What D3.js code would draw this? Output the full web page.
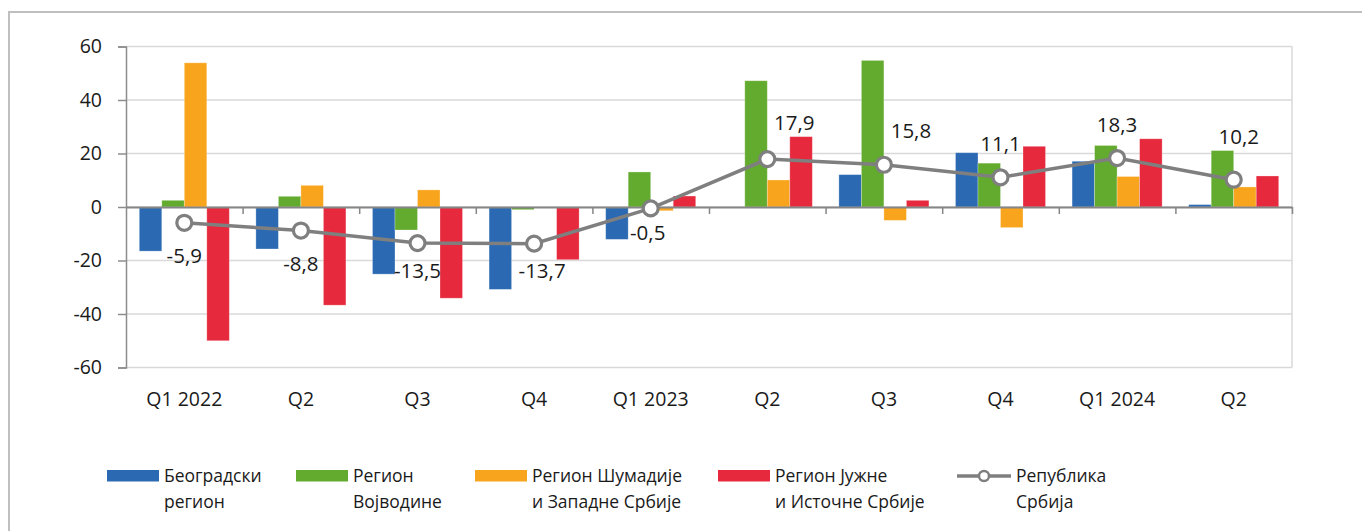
<!DOCTYPE html>
<html>
<head>
<meta charset="utf-8">
<script src="https://cdn.jsdelivr.net/npm/d3@7"></script>
<style>
  body { margin: 0; background: #fff; }
  text { font-family: "Open Sans", sans-serif; fill: #1a1a1a; }
</style>
</head>
<body>
<div class="chart"></div>
<script>
const quarters = ["Q1 2022", "Q2", "Q3", "Q4", "Q1 2023", "Q2", "Q3", "Q4", "Q1 2024", "Q2"];

const belgrade = [-16.5, -15.7, -25.1, -30.8, -12.1, 0, 12.1, 20.3, 17.1, 0.9];
const vojvodina = [2.5, 4.0, -8.6, -1.0, 13.1, 47.2, 54.8, 16.4, 23.0, 21.1];
const sumadija = [53.9, 8.1, 6.4, 0, -1.4, 10.1, -5.0, -7.7, 11.4, 7.5];
const south = [-50.0, -36.7, -34.1, -19.7, 4.1, 26.3, 2.5, 22.7, 25.5, 11.6];
const serbia = [-5.9, -8.8, -13.5, -13.7, -0.5, 17.9, 15.8, 11.1, 18.3, 10.2];

const yTicks = [-60, -40, -20, 0, 20, 40, 60];

const seriesNames = [
  ["Београдски", "регион"],
  ["Регион", "Војводине"],
  ["Регион Шумадије", "и Западне Србије"],
  ["Регион Јужне", "и Источне Србије"],
];
const lineName = ["Република", "Србија"];

const colors = ["#2b6ab2", "#63ab2f", "#f8a51d", "#e6293c"];
const barSeries = [belgrade, vojvodina, sumadija, south];

// label nudges [dx, dy] relative to each point
const labelNudge = [
  [0, 33], [0, 33], [0, 28], [8, 27], [-3, 24],
  [27, -36], [27, -34], [0, -33], [0, -33], [5, -43],
];

const W = 1362, H = 531;
const plot = { left: 126, right: 1292, top: 46.5, bottom: 367.5 };

const svg = d3.select(".chart").append("svg")
  .attr("width", W).attr("height", H);

// outer chart border
svg.append("rect")
  .attr("x", 9).attr("y", 12)
  .attr("width", W + 20).attr("height", H + 20)
  .attr("fill", "none").attr("stroke", "#bfbfbf").attr("stroke-width", 2);

const idx = d3.range(quarters.length);

const x0 = d3.scaleBand().domain(idx).range([plot.left, plot.right]).padding(0);
const x1 = d3.scaleBand().domain(d3.range(4)).range([0, x0.bandwidth()]).paddingOuter(0.59).paddingInner(0);
const y = d3.scaleLinear().domain([-60, 60]).range([plot.bottom, plot.top]);

// gridlines
svg.append("g")
  .selectAll("line")
  .data(yTicks)
  .join("line")
  .attr("x1", plot.left).attr("x2", plot.right)
  .attr("y1", (d) => y(d)).attr("y2", (d) => y(d))
  .attr("stroke", "#d9d9d9").attr("stroke-width", 1.5);

// plot area right border
svg.append("line")
  .attr("x1", plot.right).attr("x2", plot.right)
  .attr("y1", plot.top).attr("y2", plot.bottom)
  .attr("stroke", "#d9d9d9").attr("stroke-width", 1.5);

// bars
barSeries.forEach(function (vals, s) {
  svg.append("g")
    .selectAll("rect")
    .data(vals)
    .join("rect")
    .attr("x", (d, i) => x0(i) + x1(s))
    .attr("width", x1.bandwidth())
    .attr("y", (d) => y(Math.max(0, d)))
    .attr("height", (d) => Math.abs(y(d) - y(0)))
    .attr("fill", colors[s])
    .attr("stroke", "#ffffff").attr("stroke-opacity", 0.35).attr("stroke-width", 0.8);
});

// y axis
const yAxis = svg.append("g")
  .attr("transform", "translate(" + plot.left + ",0)")
  .call(d3.axisLeft(y).tickValues(yTicks).tickFormat((d) => String(d))
    .tickSize(8).tickPadding(16).tickSizeOuter(8));
yAxis.select(".domain").attr("stroke", "#8c8c8c").attr("stroke-width", 1.5);
yAxis.selectAll(".tick line").attr("stroke", "#8c8c8c").attr("stroke-width", 1.5);
yAxis.selectAll(".tick text")
  .style("font-family", '"Open Sans", sans-serif')
  .style("font-size", "19.5px")
  .attr("fill", "#1a1a1a");

// zero axis with category boundary ticks
const xAxis = svg.append("g")
  .attr("transform", "translate(0," + y(0) + ")")
  .call(d3.axisBottom(d3.scaleLinear().domain([0, quarters.length]).range([plot.left, plot.right]))
    .tickValues(d3.range(1, quarters.length + 1)).tickSize(7).tickFormat("").tickSizeOuter(0));
xAxis.select(".domain").attr("stroke", "#868686").attr("stroke-width", 2);
xAxis.selectAll(".tick line").attr("stroke", "#868686").attr("stroke-width", 1.5);

// category labels
svg.append("g")
  .selectAll("text")
  .data(quarters)
  .join("text")
  .attr("x", (d, i) => x0(i) + x0.bandwidth() / 2)
  .attr("y", 406)
  .attr("text-anchor", "middle")
  .style("font-size", "19.5px")
  .text((d) => d);

// Republic line
const cx = (i) => x0(i) + x0.bandwidth() / 2;
const line = d3.line().x((d, i) => cx(i)).y((d) => y(d));

svg.append("path")
  .datum(serbia)
  .attr("d", line)
  .attr("fill", "none")
  .attr("stroke", "#7f7f7f")
  .attr("stroke-width", 3.5);

svg.append("g")
  .selectAll("circle")
  .data(serbia)
  .join("circle")
  .attr("cx", (d, i) => cx(i))
  .attr("cy", (d) => y(d))
  .attr("r", 7.5)
  .attr("fill", "#fff")
  .attr("stroke", "#7f7f7f")
  .attr("stroke-width", 3.2);

svg.append("g")
  .selectAll("text")
  .data(serbia)
  .join("text")
  .attr("x", (d, i) => cx(i) + labelNudge[i][0])
  .attr("y", (d, i) => y(d) + labelNudge[i][1])
  .attr("dy", "0.35em")
  .attr("text-anchor", "middle")
  .style("font-size", "20.5px")
  .attr("fill", "#000")
  .text((d) => d.toFixed(1).replace(".", ","));

// legend
const legendX = [107, 296, 475, 718, 957];
const legend = svg.append("g");

seriesNames.forEach(function (name, s) {
  legend.append("rect")
    .attr("x", legendX[s]).attr("y", 470)
    .attr("width", 52).attr("height", 11.5)
    .attr("fill", colors[s]);
  name.forEach(function (ln, k) {
    legend.append("text")
      .attr("x", legendX[s] + 57).attr("y", 482 + k * 26)
      .style("font-size", "17.5px")
      .text(ln);
  });
});

legend.append("line")
  .attr("x1", legendX[4]).attr("x2", legendX[4] + 54)
  .attr("y1", 476).attr("y2", 476)
  .attr("stroke", "#7f7f7f").attr("stroke-width", 3.5);
legend.append("circle")
  .attr("cx", legendX[4] + 27).attr("cy", 476).attr("r", 5)
  .attr("fill", "#fff").attr("stroke", "#7f7f7f").attr("stroke-width", 2.5);
lineName.forEach(function (ln, k) {
  legend.append("text")
    .attr("x", legendX[4] + 59).attr("y", 482 + k * 26)
    .style("font-size", "17.5px")
    .text(ln);
});
</script>
</body>
</html>
